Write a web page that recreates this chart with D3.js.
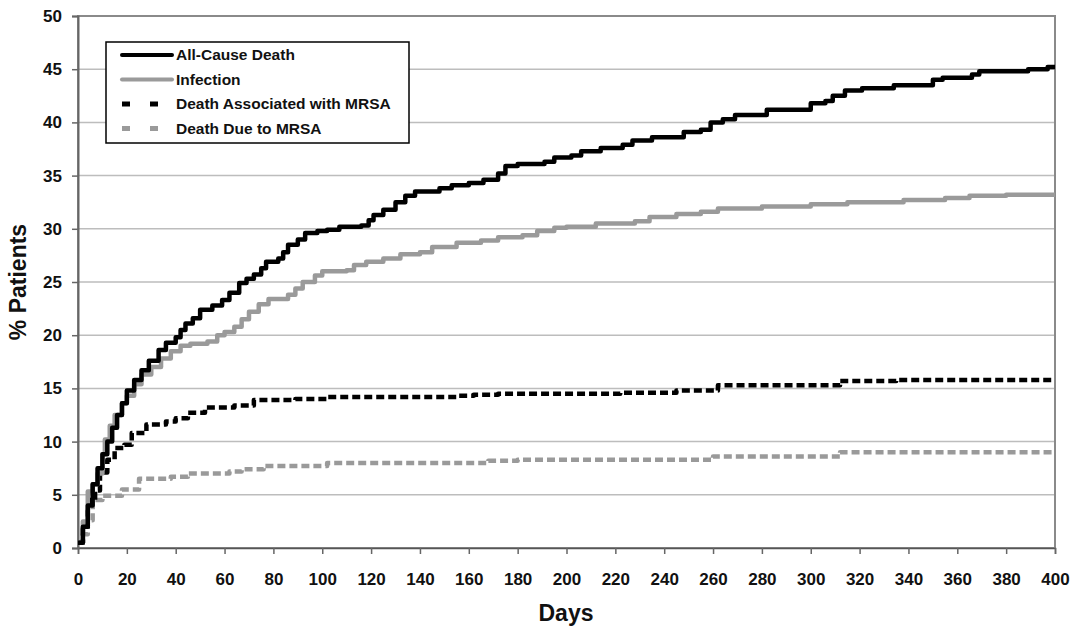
<!DOCTYPE html>
<html>
<head>
<meta charset="utf-8">
<script src="https://cdn.jsdelivr.net/npm/d3@7"></script>
<style>
  body { margin: 0; background: #fff; }
  text { font-family: "Liberation Sans", Arial, sans-serif; font-weight: bold; }
</style>
</head>
<body>
<script>
//=== Data ===
const seriesNames = ["All-Cause Death", "Infection", "Death Associated with MRSA", "Death Due to MRSA"]

const allCause = [
  [0, 0.5], [2, 2], [4, 4], [6, 6], [8, 7.5], [10, 8.8], [12, 10], [14, 11.3], [16, 12.5], [18, 13.6],
  [20, 14.8], [23, 15.8], [26, 16.7], [29, 17.6], [33, 18.6], [36, 19.3], [40, 19.8], [42, 20.5], [44, 21.1],
  [47, 21.6], [50, 22.4], [55, 22.8], [59, 23.3], [62, 24], [66, 24.9], [69, 25.3], [72, 25.7], [75, 26.3],
  [77, 26.9], [82, 27.2], [84, 27.8], [86, 28.5], [90, 29], [93, 29.6], [98, 29.8], [102, 29.9],
  [107, 30.2], [116, 30.3], [119, 30.8], [121, 31.3], [125, 31.8], [130, 32.5], [134, 33.1], [138, 33.5],
  [148, 33.8], [153, 34.1], [160, 34.3], [166, 34.6], [172, 35.2], [175, 35.9], [180, 36.1], [191, 36.3],
  [195, 36.7], [202, 36.9], [206, 37.3], [214, 37.6], [223, 37.9], [227, 38.3], [235, 38.6], [248, 39.1],
  [255, 39.3], [259, 40], [264, 40.3], [269, 40.7], [282, 41.2], [300, 41.8], [306, 42], [309, 42.5],
  [314, 43], [321, 43.2], [334, 43.5], [350, 44], [354, 44.2], [366, 44.5], [369, 44.8], [389, 45],
  [397, 45.2], [400, 45.2]
]

const infection = [
  [0, 0.5], [2, 2.5], [4, 5.3], [6, 6], [8, 7], [10, 8.8], [11, 10.2], [13, 11.5], [15, 12.5], [18, 13.6],
  [20, 14.3], [23, 15.4], [26, 16.3], [30, 17], [34, 17.8], [38, 18.5], [42, 19], [46, 19.2], [53, 19.4],
  [57, 20], [60, 20.3], [64, 20.8], [67, 21.5], [70, 22.2], [74, 22.9], [78, 23.4], [86, 23.8], [89, 24.4],
  [92, 25], [97, 25.6], [100, 26], [110, 26.1], [113, 26.6], [118, 26.9], [125, 27.2], [132, 27.6],
  [140, 27.8], [145, 28.3], [155, 28.7], [165, 28.9], [172, 29.2], [182, 29.4], [188, 29.8], [195, 30.1],
  [200, 30.2], [212, 30.5], [228, 30.7], [234, 31.1], [245, 31.4], [255, 31.6], [262, 31.9], [280, 32.1],
  [300, 32.3], [315, 32.5], [338, 32.7], [355, 32.9], [365, 33.1], [380, 33.2], [400, 33.2]
]

const assocMRSA = [
  [0, 0.5], [2, 1.8], [4, 3.5], [5, 4.5], [7, 5.4], [9, 7.1], [12, 8.3], [15, 9.4], [19, 9.7],
  [22, 10.8], [28, 11.6], [36, 11.9], [40, 12.2], [45, 12.7], [52, 13.2], [64, 13.4], [72, 13.9],
  [89, 14], [102, 14.2], [155, 14.3], [162, 14.4], [172, 14.5], [222, 14.6], [245, 14.8], [262, 15.3],
  [312, 15.7], [335, 15.8], [400, 15.8]
]

const dueMRSA = [
  [0, 0.5], [2, 1.3], [4, 2.6], [6, 4.5], [10, 4.9], [18, 5.5], [25, 6.5], [38, 6.7], [45, 7],
  [62, 7.2], [67, 7.4], [76, 7.7], [102, 8], [168, 8.2], [180, 8.3], [260, 8.6], [312, 9], [400, 9]
]

const xTicks = d3.range(0, 401, 20)
const yTicks = d3.range(0, 51, 5)

//=== Layout ===
const margin = { top: 16, right: 15, bottom: 78, left: 78 }
const width = 1070 - margin.left - margin.right
const height = 626 - margin.top - margin.bottom

const svg = d3.select("body").append("svg")
  .attr("width", 1070)
  .attr("height", 626)

const g = svg.append("g")
  .attr("transform", "translate(" + margin.left + "," + margin.top + ")")

const x = d3.scaleLinear().domain([0, 400]).range([0, width])
const y = d3.scaleLinear().domain([0, 50]).range([height, 0])

// gridlines
g.append("g")
  .selectAll("line")
  .data(yTicks.filter(d => d > 0))
  .enter().append("line")
  .attr("x1", 0).attr("x2", width)
  .attr("y1", d => y(d)).attr("y2", d => y(d))
  .attr("stroke", "#bdbdbd")
  .attr("stroke-width", 1.5)

// plot frame
g.append("rect")
  .attr("width", width).attr("height", height)
  .attr("fill", "none")
  .attr("stroke", "#8a8a8a")
  .attr("stroke-width", 2)

// X axis
const xAxis = g.append("g")
  .attr("transform", "translate(0," + height + ")")
  .call(d3.axisBottom(x).tickValues(xTicks).tickSize(6).tickPadding(19))
xAxis.select(".domain").attr("stroke", "#555").attr("stroke-width", 1.5)
xAxis.selectAll(".tick line").attr("stroke", "#666").attr("stroke-width", 1.5)
xAxis.selectAll("text").attr("font-size", 17).attr("fill", "#111")

// Y axis
const yAxis = g.append("g")
  .call(d3.axisLeft(y).tickValues(yTicks).tickSize(6).tickPadding(10))
yAxis.select(".domain").attr("stroke", "#666").attr("stroke-width", 2)
yAxis.selectAll(".tick line").attr("stroke", "#666").attr("stroke-width", 1.5)
yAxis.selectAll("text").attr("font-size", 17).attr("fill", "#111")

// axis titles
svg.append("text")
  .attr("x", 566)
  .attr("y", 621)
  .attr("text-anchor", "middle")
  .attr("font-size", 23)
  .attr("fill", "#111")
  .text("Days")

svg.append("text")
  .attr("transform", "translate(26," + (margin.top + height / 2) + ") rotate(-90)")
  .attr("text-anchor", "middle")
  .attr("font-size", 23)
  .attr("fill", "#111")
  .text("% Patients")

//connect the dots (step curves)
const line = d3.line()
  .x(d => x(d[0]))
  .y(d => y(d[1]))
  .curve(d3.curveStepAfter)

const styles = [
  { data: allCause, color: "#000", dash: null },
  { data: infection, color: "#9a9a9a", dash: null },
  { data: assocMRSA, color: "#000", dash: "8,4" },
  { data: dueMRSA, color: "#9a9a9a", dash: "8,4" }
]

// draw back to front so black solid ends on top
;[3, 2, 1, 0].forEach(i => {
  g.append("path")
    .datum(styles[i].data)
    .attr("d", line)
    .attr("fill", "none")
    .attr("stroke", styles[i].color)
    .attr("stroke-width", 4.5)
    .attr("stroke-linejoin", "round")
    .attr("stroke-dasharray", styles[i].dash)
})

// legend
const legend = svg.append("g").attr("transform", "translate(106,42)")
legend.append("rect")
  .attr("width", 303).attr("height", 101)
  .attr("fill", "#fff")
  .attr("stroke", "#000")
  .attr("stroke-width", 1.5)

seriesNames.forEach((name, i) => {
  const ly = 13 + i * 24.5
  const row = legend.append("g").attr("transform", "translate(0," + ly + ")")
  if (styles[i].dash) {
    row.append("line").attr("x1", 16).attr("x2", 24).attr("y1", 0).attr("y2", 0)
      .attr("stroke", styles[i].color).attr("stroke-width", 5)
    row.append("line").attr("x1", 44).attr("x2", 52).attr("y1", 0).attr("y2", 0)
      .attr("stroke", styles[i].color).attr("stroke-width", 5)
  } else {
    row.append("line").attr("x1", 16).attr("x2", 66).attr("y1", 0).attr("y2", 0)
      .attr("stroke", styles[i].color).attr("stroke-width", 4)
      .attr("stroke-linecap", "round")
  }
  row.append("text")
    .attr("x", 70).attr("y", 0).attr("dy", "0.35em")
    .attr("font-size", 15.5)
    .attr("fill", "#111")
    .text(name)
})
</script>
</body>
</html>
